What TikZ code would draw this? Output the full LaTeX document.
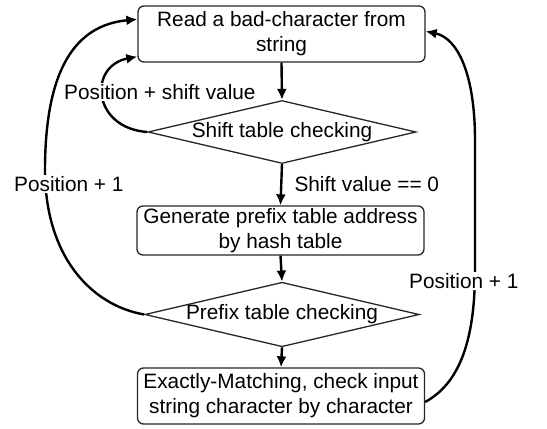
\documentclass[tikz,border=0pt]{standalone}
\usepackage{fontspec}
\setmainfont{Liberation Sans}
\usetikzlibrary{shapes.geometric,arrows.meta,calc}
\begin{document}
\begin{tikzpicture}[x=1pt,y=-1pt,
  font=\fontsize{20.8}{25}\selectfont,
  procbox/.style={draw=black!85,line width=1.3pt,rounded corners=6pt,minimum width=287pt,inner sep=0pt,align=center},
  decision/.style={draw=black!85,line width=1.3pt,diamond,aspect=4.25,minimum width=268pt,inner sep=0pt},
  flow/.style={line width=2.4pt,-{Latex[length=11pt,width=10pt]}},
  tag/.style={fill=white,inner sep=1pt}]
\useasboundingbox (0,0) rectangle (547,429);

% flowchart blocks
\node[procbox,minimum height=56pt] (b1) at (281.5,34) {Read a bad-character from\\string};
\node[decision,minimum height=63pt] (d1) at (282,132) {Shift table checking};
\node[procbox,minimum height=49pt] (b2) at (280.5,230.5) {Generate prefix table address\\by hash table};
\node[decision,minimum height=57pt] (d2) at (282,314.5) {Prefix table checking};
\node[procbox,minimum height=56pt] (b3) at (281,396) {Exactly-Matching, check input\\string character by character};

% attach points of the feedback loops
\coordinate (in1) at ([yshift=6pt]b1.south west);
\coordinate (in2) at ([yshift=-14pt]b1.north west);
\coordinate (in3) at ([yshift=-26pt]b1.north east);
\coordinate (out3) at ([yshift=-6pt]b3.east);

% main flow
\draw[flow] (b1.south) -- (d1.north);
\draw[flow] (d1.south) -- (b2.north);
\draw[flow] (b2.south) -- (d2.north);
\draw[flow] (d2.south) -- (b3.north);

% feedback loops
\draw[flow] (d1.west) .. controls (92,128) and (88,66) .. (in1);
\draw[flow] (d2.west) .. controls (90,305) and (45,255) .. (45,170)
  .. controls (45,70) and (75,25) .. (in2);
\draw[flow] (out3) .. controls (462,382) and (475,335) .. (475,270)
  -- (475,140) .. controls (475,75) and (458,38) .. (in3);

% labels
\node[tag,anchor=west] (l1) at (63,92) {Position + shift value};
\node[anchor=west] (l2) at (291,184) {Shift value == 0};
\node[tag,anchor=west] (l3) at (13,184) {Position + 1};
\node[tag,anchor=west] (l4) at (408,281) {Position + 1};
\end{tikzpicture}
\end{document}
